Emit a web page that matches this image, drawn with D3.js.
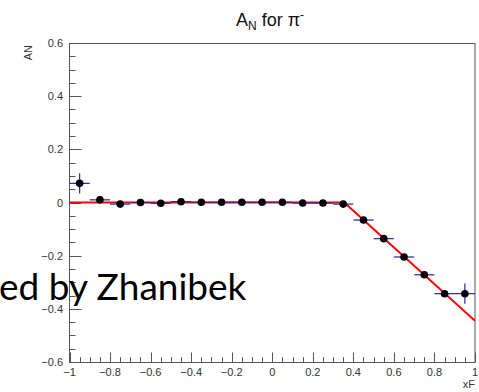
<!DOCTYPE html>
<html><head><meta charset="utf-8">
<script src="https://cdn.jsdelivr.net/npm/d3@7/dist/d3.min.js"></script>
<style>body{margin:0;background:#fff}svg{display:block}</style>
</head><body>
<script>
// ---- data ----
const xCenters = [-0.95,-0.85,-0.75,-0.65,-0.55,-0.45,-0.35,-0.25,-0.15,-0.05,0.05,0.15,0.25,0.35,0.45,0.55,0.65,0.75,0.85,0.95];
const anValues = [0.072,0.010,-0.006,0.000,-0.003,0.003,0.001,0.001,0.001,0.001,0.001,-0.002,-0.002,-0.006,-0.066,-0.136,-0.205,-0.272,-0.343,-0.343];
const anErrors = [0.038,0.004,0.004,0.004,0.004,0.004,0.004,0.004,0.004,0.004,0.004,0.004,0.004,0.004,0.004,0.004,0.004,0.005,0.006,0.038];
const binHalfWidth = 0.05;
const fitX = [-1, 0.355, 1];
const fitY = [0, 0, -0.445];
const xMajorTicks = [-1,-0.8,-0.6,-0.4,-0.2,0,0.2,0.4,0.6,0.8,1];
const yMajorTicks = [-0.6,-0.4,-0.2,0,0.2,0.4,0.6];
const titleMain = "A", titleSub = "N", titleRest = " for π", titleSup = "-";

const W = 479, H = 392;
const L = 69.5, R = 475, T = 43, B = 362;
const svg = d3.select("body").append("svg").attr("width", W).attr("height", H);
const x = d3.scaleLinear().domain([-1, 1]).range([L, R]);
const y = d3.scaleLinear().domain([-0.6, 0.6]).range([B, T]);
const fmt = v => (v < 0 ? "\u2212" : "") + d3.format("")(Math.abs(+v.toFixed(2)));
const font = "'Liberation Sans', Arial, sans-serif";
const axisCol = "#555";

// minor ticks
const xMinor = d3.range(-1, 1.0001, 0.05).map(v => +v.toFixed(2));
const yMinor = d3.range(-0.6, 0.6001, 0.05).map(v => +v.toFixed(2));
const g = svg.append("g");
g.selectAll(".xm").data(xMinor).join("line")
  .attr("x1", d => Math.round(x(d)) + 0.5).attr("x2", d => Math.round(x(d)) + 0.5)
  .attr("y1", B).attr("y2", d => B - (xMajorTicks.some(m => Math.abs(m - d) < 1e-6) ? 9.5 : 4.8))
  .attr("stroke", axisCol).attr("stroke-width", 1);
g.selectAll(".ym").data(yMinor).join("line")
  .attr("y1", d => Math.round(y(d)) + 0.5).attr("y2", d => Math.round(y(d)) + 0.5)
  .attr("x1", L).attr("x2", d => L + (yMajorTicks.some(m => Math.abs(m - d) < 1e-6) ? 12 : 6))
  .attr("stroke", axisCol).attr("stroke-width", 1);

// frame
svg.append("rect").attr("x", L).attr("y", T + 0.5).attr("width", R - L).attr("height", B - T)
  .attr("fill", "none").attr("stroke", axisCol).attr("stroke-width", 1);

// tick labels
svg.selectAll(".xl").data(xMajorTicks).join("text")
  .attr("x", d => x(d)).attr("y", 376).attr("text-anchor", "middle")
  .attr("font-family", font).attr("font-size", 11).attr("fill", "#333").text(fmt);
svg.selectAll(".yl").data(yMajorTicks).join("text")
  .attr("x", 63).attr("y", d => y(d) + 4).attr("text-anchor", "end")
  .attr("font-family", font).attr("font-size", 11).attr("fill", "#333").text(fmt);

// axis titles
svg.append("text").attr("x", 475).attr("y", 388).attr("text-anchor", "end")
  .attr("font-family", font).attr("font-size", 11).attr("fill", "#333").text("xF");
svg.append("text").attr("transform", "translate(32,45) rotate(-90)").attr("text-anchor", "end")
  .attr("font-family", font).attr("font-size", 11).attr("fill", "#333").text("AN");

// title
const t = svg.append("text").attr("x", 270).attr("y", 26).attr("text-anchor", "middle")
  .attr("font-family", font).attr("font-size", 18).attr("fill", "#111");
t.append("tspan").text(titleMain);
t.append("tspan").attr("font-size", 12).attr("dy", 4).text(titleSub);
t.append("tspan").attr("dy", -4).text(titleRest);
t.append("tspan").attr("font-size", 12).attr("dy", -7).text(titleSup);

// fit line
const clip = svg.append("clipPath").attr("id", "c").append("rect")
  .attr("x", L).attr("y", T).attr("width", R - L).attr("height", B - T);
svg.append("path").datum(fitX.map((v, i) => [v, fitY[i]]))
  .attr("d", d3.line().x(d => x(d[0])).y(d => y(d[1])))
  .attr("fill", "none").attr("stroke", "#ff0000").attr("stroke-width", 2)
  .attr("clip-path", "url(#c)");

// error bars
const pts = xCenters.map((v, i) => ({x: v, y: anValues[i], e: anErrors[i]}));
const eb = svg.append("g").attr("stroke", "#2525a8").attr("stroke-width", 1.2);
eb.selectAll(".h").data(pts).join("line")
  .attr("x1", d => x(d.x - binHalfWidth)).attr("x2", d => x(d.x + binHalfWidth))
  .attr("y1", d => y(d.y)).attr("y2", d => y(d.y));
eb.selectAll(".v").data(pts).join("line")
  .attr("x1", d => x(d.x)).attr("x2", d => x(d.x))
  .attr("y1", d => y(d.y - d.e)).attr("y2", d => y(d.y + d.e));

// markers
svg.selectAll(".m").data(pts).join("circle")
  .attr("cx", d => x(d.x)).attr("cy", d => y(d.y)).attr("r", 3.8).attr("fill", "#000");

// overlay text
svg.append("text").attr("x", -1).attr("y", 300).attr("font-family", "Lato, sans-serif")
  .attr("font-size", 37).attr("fill", "#000").text("ed by Zhanibek");
</script>
</body></html>
